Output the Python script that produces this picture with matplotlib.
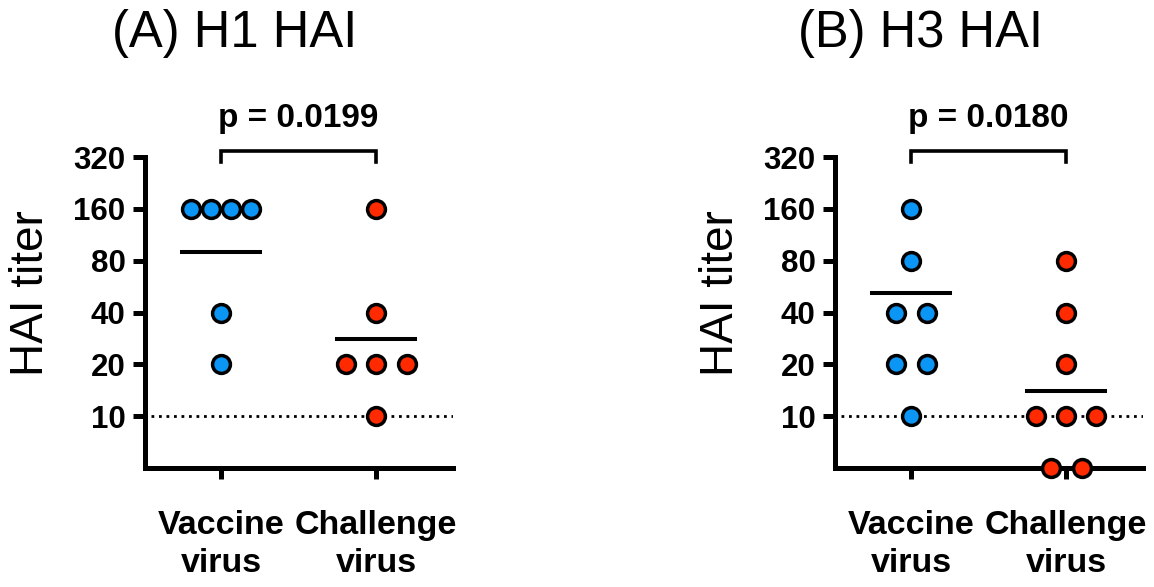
import numpy as np
import matplotlib
matplotlib.use('Agg')
import matplotlib.pyplot as plt

plt.rcParams['font.family'] = ['Liberation Sans', 'DejaVu Sans']

# === data ===
groups = ['Vaccine\nvirus', 'Challenge\nvirus']
h1_vaccine = [160, 160, 160, 160, 40, 20]
h1_challenge = [160, 40, 20, 20, 20, 10]
h3_vaccine = [160, 80, 40, 40, 20, 20, 10]
h3_challenge = [80, 40, 20, 10, 10, 10, 5, 5]
h1_means = [90, 28]
h3_means = [52, 14]
y_ticks = [10, 20, 40, 80, 160, 320]
titles = ['(A) H1 HAI', '(B) H3 HAI']
p_values = ['p = 0.0199', 'p = 0.0180']
lod = 10

blue = '#0b96f5'
red = '#ff2a00'


def spread(values, center):
    # put equal values side by side, like a column scatter
    xs = np.zeros(len(values))
    values = np.array(values)
    for v in np.unique(values):
        idx = np.where(values == v)[0]
        n = len(idx)
        if n > 1:
            step = min(0.2, 0.39 / (n - 1))
            xs[idx] = center + (np.arange(n) - (n - 1) / 2) * step
        else:
            xs[idx] = center
    return xs


fig = plt.figure(figsize=(11.54, 5.87), dpi=100)
panels = [
    (0.1257, [h1_vaccine, h1_challenge], h1_means),
    (0.7236, [h3_vaccine, h3_challenge], h3_means),
]
title_x = [0.203, 0.798]

for k, (left, data, means) in enumerate(panels):
    ax = fig.add_axes([left, 0.2027, 0.2669, 0.5298])
    ax.set_yscale('log', base=2)
    ax.set_ylim(5, 320)
    ax.set_xlim(-0.49, 1.495)

    # limit of detection
    ax.axhline(lod, xmin=0.02, xmax=1, color='black', lw=2, linestyle=(0, (1, 1.7)), zorder=1)

    for i, (vals, col) in enumerate(zip(data, [blue, red])):
        ax.scatter(spread(vals, i), vals, s=165, c=col, edgecolors='black',
                   linewidths=2.5, zorder=3, clip_on=False)
        ax.plot([i - 0.25, i + 0.25], [means[i], means[i]], color='black', lw=2.9, zorder=2)

    for s in ['top', 'right']:
        ax.spines[s].set_visible(False)
    for s in ['left', 'bottom']:
        ax.spines[s].set_linewidth(3.6)

    ax.set_yticks(y_ticks)
    ax.set_yticklabels([str(t) for t in y_ticks])
    ax.yaxis.set_minor_locator(matplotlib.ticker.NullLocator())
    ax.set_xticks([0, 1])
    ax.set_xticklabels(groups)
    ax.tick_params(axis='y', length=9, width=3.6, pad=5, labelsize=22.5)
    ax.tick_params(axis='x', length=8, width=3.6, pad=22, labelsize=24.5)
    for lab in ax.get_yticklabels() + ax.get_xticklabels():
        lab.set_fontweight('bold')
    for lab in ax.get_xticklabels():
        lab.set_linespacing(1.3)

    ax.text(-0.371, 0.563, 'HAI titer', transform=ax.transAxes, rotation=90,
            ha='center', va='center', fontsize=33)

    # significance bracket
    tr = ax.get_xaxis_transform()
    ax.plot([0, 0, 1, 1], [0.984, 1.019, 1.019, 0.984], color='black', lw=2.6,
            transform=tr, clip_on=False, solid_joinstyle='miter')
    ax.annotate(p_values[k], xy=(0.5, 320), xytext=(0, 21.5), textcoords='offset points',
                ha='center', va='baseline', fontsize=24, fontweight='bold')

    fig.text(title_x[k], 0.92, titles[k], ha='center', va='baseline', fontsize=36.5)

plt.savefig('out.png', dpi=100)
